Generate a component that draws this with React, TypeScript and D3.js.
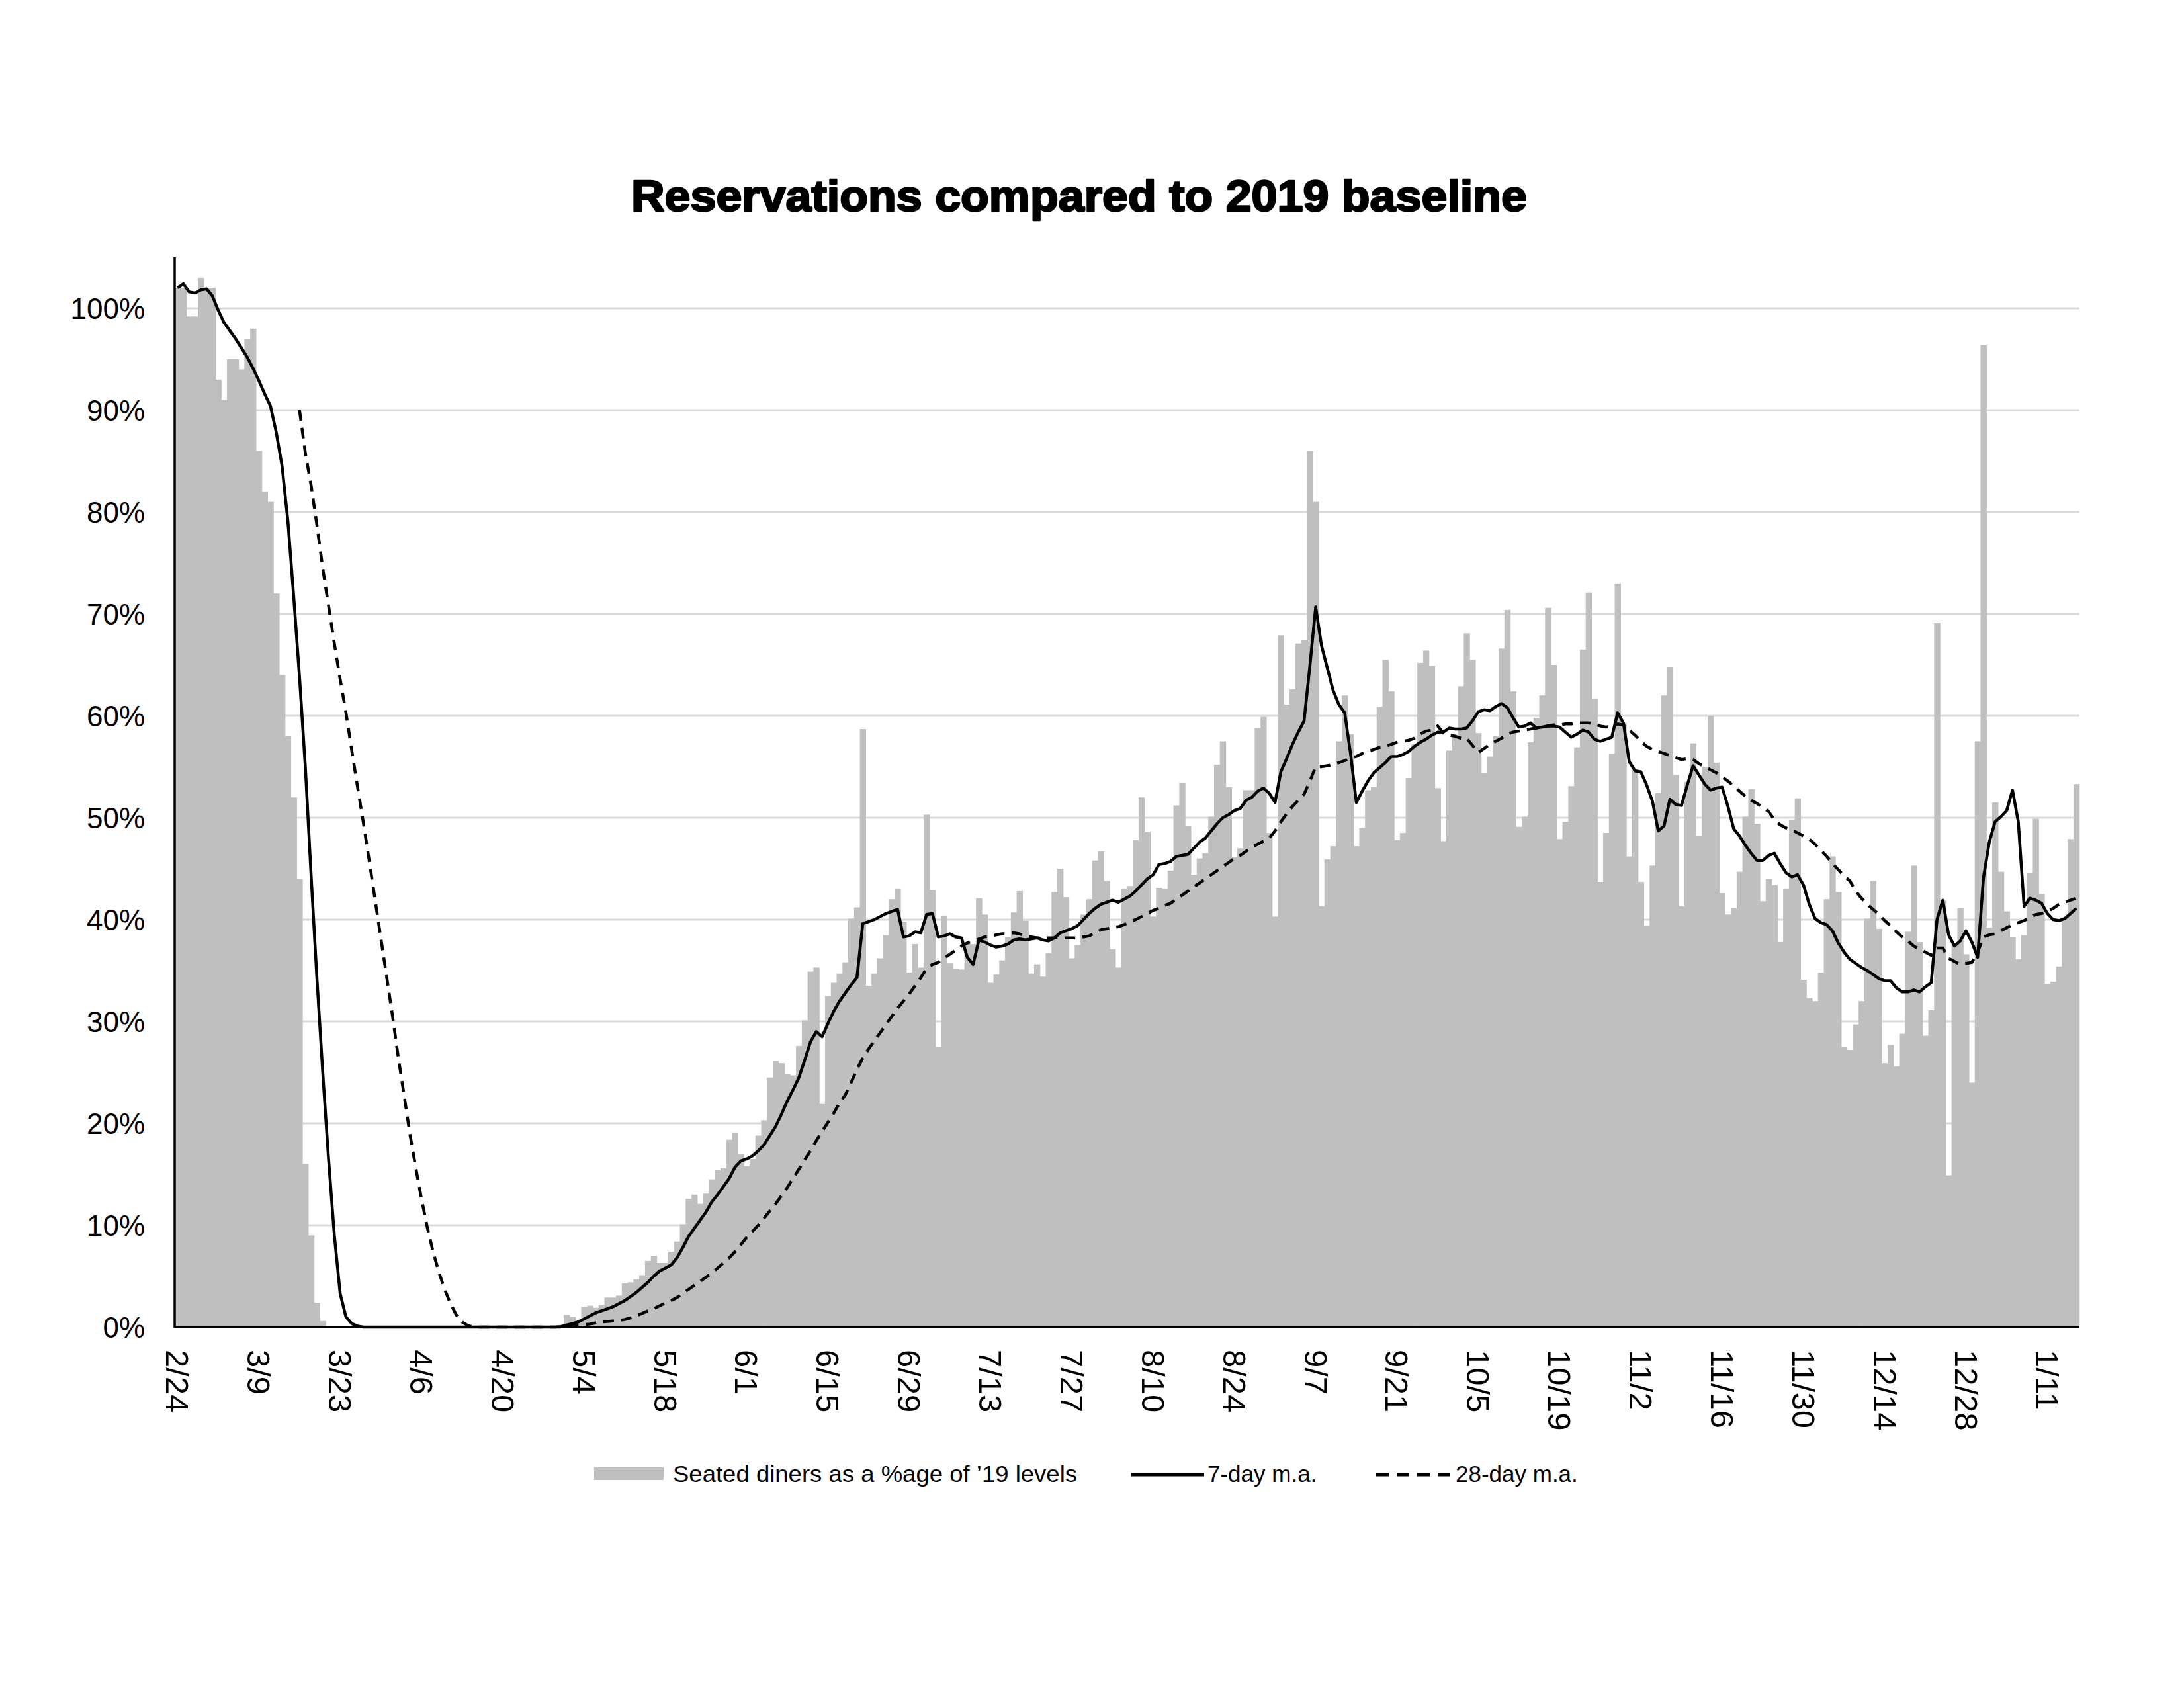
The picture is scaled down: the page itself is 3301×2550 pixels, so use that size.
import { line, range, scaleBand, scaleLinear } from 'd3'

// daily values, 2/24 through 1/16 (one entry per day)
const seated = [
  102, 102, 99.2, 99.2, 103, 102, 102, 93, 91, 95,
  95, 94, 97, 98, 86, 82, 81, 72, 64, 58,
  52, 44, 16, 9, 2.4, 0.6, 0, 0, 0, 0,
  0, 0, 0, 0, 0, 0, 0, 0, 0, 0,
  0, 0, 0, 0, 0, 0, 0, 0, 0, 0,
  0, 0, 0, 0, 0, 0, 0, 0, 0, 0,
  0, 0, 0, 0, 0, 0, 0, 1.2, 1.0, 0.7,
  2.0, 2.1, 1.9, 2.2, 2.9, 2.9, 3.1, 4.3, 4.4, 4.7,
  5.1, 6.5, 7.0, 6.3, 6.3, 7.4, 8.4, 10.1, 12.6, 13.0,
  12.1, 13.1, 14.5, 15.4, 15.6, 18.4, 19.1, 17.0, 15.8, 16.5,
  18.8, 20.3, 24.5, 26.1, 25.9, 24.8, 24.7, 27.6, 30.1, 34.9,
  35.3, 21.9, 32.5, 33.8, 34.7, 35.8, 40.1, 41.2, 58.7, 33.5,
  34.7, 36.2, 38.5, 42.0, 43.0, 39.8, 34.8, 37.6, 35.3, 50.3,
  42.9, 27.5, 40.4, 35.7, 35.2, 35.1, 37.6, 37.6, 42.1, 40.5,
  33.8, 34.6, 36.0, 38.3, 40.7, 42.8, 39.9, 34.7, 35.6, 34.4,
  36.7, 42.7, 45.0, 42.2, 36.2, 37.5, 40.5, 42.0, 45.8, 46.7,
  43.8, 37.1, 35.3, 43.0, 43.3, 47.8, 52.0, 48.6, 40.3, 43.1,
  43.0, 44.8, 51.2, 53.4, 49.2, 44.4, 46.0, 46.5, 50.1, 55.2,
  57.5, 53.0, 46.1, 47.0, 52.7, 52.7, 58.8, 59.9, 48.5, 40.3,
  67.9, 61.1, 62.6, 67.1, 67.4, 86.0, 81.0, 41.3, 45.9, 47.2,
  57.5, 62.0, 58.2, 47.2, 49.0, 52.7, 53.0, 60.9, 65.5, 62.4,
  47.8, 48.5, 53.9, 57.2, 65.2, 66.4, 64.9, 52.9, 47.7, 56.6,
  58.0, 62.9, 68.1, 65.5, 58.3, 54.4, 56.0, 58.0, 66.6, 70.4,
  62.4, 49.1, 50.1, 57.4, 59.8, 62.0, 70.6, 65.0, 47.9, 49.6,
  53.1, 56.9, 66.5, 72.1, 61.7, 43.7, 48.5, 56.3, 73.0, 59.3,
  46.2, 54.7, 43.7, 39.4, 45.3, 52.4, 62.0, 64.8, 54.2, 41.3,
  53.5, 57.3, 48.2, 55.0, 60.0, 55.4, 42.6, 40.5, 41.1, 44.7,
  50.1, 52.8, 49.4, 41.8, 44.0, 43.4, 37.8, 43.0, 49.8, 51.9,
  34.1, 32.3, 32.0, 34.8, 42.0, 46.2, 42.7, 27.5, 27.2, 29.7,
  32.0, 40.1, 43.8, 39.1, 25.9, 27.7, 25.6, 28.8, 38.8, 45.3,
  37.8, 28.6, 31.1, 69.1, 41.9, 14.9, 37.6, 41.1, 36.6, 24.0,
  57.5, 96.4, 39.2, 51.5, 44.7, 40.8, 38.3, 36.1, 38.5, 44.6,
  49.9, 42.5, 33.7, 33.9, 35.4, 40.1, 47.9, 53.3,
]

const ma7 = [
  102, 102.4, 101.6, 101.5, 101.8, 101.9, 101.2, 99.8, 98.6, 97.8,
  97.0, 96.1, 95.2, 94.1, 92.9, 91.6, 90.4, 87.8, 84.5, 79.1,
  71.7, 63.8, 55.0, 44.3, 34.2, 25.0, 16.5, 9.0, 3.3, 1.0,
  0.35, 0.1, 0, 0, 0, 0, 0, 0, 0, 0,
  0, 0, 0, 0, 0, 0, 0, 0, 0, 0,
  0, 0, 0, 0, 0, 0, 0, 0, 0, 0,
  0, 0, 0, 0, 0, 0, 0.05, 0.2, 0.35, 0.5,
  0.8, 1.1, 1.4, 1.6, 1.8, 2.0, 2.3, 2.6, 3.0, 3.4,
  3.9, 4.4, 5.0, 5.5, 5.8, 6.1, 6.8, 7.8, 8.9, 9.7,
  10.5, 11.3, 12.3, 13.0, 13.8, 14.6, 15.7, 16.3, 16.5, 16.8,
  17.3, 17.9, 18.8, 19.7, 20.9, 22.2, 23.3, 24.5, 26.2, 28.0,
  29.0, 28.5, 29.8, 31.0, 32.0, 32.8, 33.6, 34.3, 39.6, 39.8,
  40.0, 40.3, 40.6, 40.8, 41.0, 38.3, 38.4, 38.8, 38.7, 40.5,
  40.6, 38.3, 38.4, 38.6, 38.3, 38.2, 36.3, 35.6, 38.0, 37.8,
  37.5, 37.3, 37.4, 37.6, 38.0, 38.1, 38.0, 38.1, 38.2, 38.0,
  37.9, 38.2, 38.7, 38.9, 39.1, 39.4, 40.0, 40.6, 41.1, 41.5,
  41.7, 41.9, 41.7, 42.0, 42.3, 42.8, 43.4, 44.0, 44.4, 45.4,
  45.5, 45.7, 46.2, 46.3, 46.4, 47.0, 47.6, 48.0, 48.7, 49.4,
  50.0, 50.3, 50.7, 50.9, 51.7, 52.0, 52.6, 52.9, 52.4, 51.5,
  54.5, 55.8, 57.2, 58.4, 59.5, 64.9, 70.7, 66.9, 64.7, 62.5,
  61.1, 60.3, 56.3, 51.5, 52.6, 53.6, 54.4, 54.9, 55.4, 56.0,
  56.0, 56.2, 56.5, 57.0, 57.4, 57.7, 58.1, 58.4, 58.4, 58.8,
  58.7, 58.7, 58.8, 59.5, 60.4, 60.6, 60.5, 60.9, 61.2, 60.8,
  59.8, 58.9, 59.0, 59.3, 58.8, 58.9, 59.0, 59.0, 58.9, 58.4,
  57.9, 58.2, 58.6, 58.4, 57.7, 57.5, 57.7, 57.9, 60.3, 59.3,
  55.5, 54.6, 54.5, 53.2, 51.6, 48.7, 49.2, 51.8, 51.3, 51.2,
  53.2, 55.1, 54.2, 53.3, 52.7, 52.9, 53.0, 51.1, 48.9, 48.2,
  47.3, 46.5, 45.8, 45.8, 46.3, 46.5, 45.5, 44.6, 44.2, 44.4,
  43.4, 41.5, 40.1, 39.7, 39.5, 38.9, 37.7, 36.8, 36.1, 35.7,
  35.3, 35.0, 34.6, 34.2, 34.0, 34.0, 33.3, 32.9, 32.9, 33.1,
  32.9, 33.4, 33.8, 40.0, 41.9, 38.5, 37.4, 37.9, 38.9, 37.8,
  36.3, 44.1, 47.6, 49.6, 50.1, 50.7, 52.7, 49.6, 41.3, 42.1,
  41.9, 41.6, 40.6, 40.0, 39.9, 40.1, 40.6, 41.1,
]

const ma28 = [
  null, null, null, null, null, null, null, null, null, null,
  null, null, null, null, null, null, null, null, null, null,
  null, 90, 85.8, 82.6, 78.7, 74.5, 70.8, 67.1, 63.6, 60.3,
  56.6, 53.0, 49.5, 45.8, 42.0, 38.2, 34.4, 30.6, 26.5, 22.8,
  19.0, 15.7, 12.6, 9.8, 7.4, 5.4, 3.7, 2.3, 1.2, 0.5,
  0.15, 0, 0, 0, 0, 0, 0, 0, 0, 0,
  0, 0, 0, 0, 0, 0, 0, 0.05, 0.1, 0.15,
  0.25, 0.3, 0.4, 0.5, 0.55, 0.6, 0.65, 0.75, 0.9, 1.1,
  1.35, 1.6, 1.8, 2.1, 2.35, 2.6, 2.9, 3.3, 3.7, 4.1,
  4.5, 4.9, 5.3, 5.8, 6.3, 6.8, 7.4, 8.1, 8.8, 9.4,
  10.0, 10.7, 11.4, 12.1, 12.9, 13.7, 14.6, 15.5, 16.4, 17.3,
  18.3, 19.2, 20.1, 21.0, 22.0, 22.8, 24.0, 25.3, 26.4, 27.3,
  28.1, 28.9, 29.7, 30.5, 31.3, 32.0, 32.7, 33.5, 34.3, 35.2,
  35.6, 35.8, 36.2, 36.6, 37.0, 37.4, 37.7, 37.9, 38.1, 38.3,
  38.4, 38.5, 38.6, 38.6, 38.7, 38.6, 38.4, 38.3, 38.2, 38.2,
  38.2, 38.2, 38.2, 38.2, 38.2, 38.2, 38.3, 38.4, 38.7, 39.0,
  39.1, 39.2, 39.3, 39.5, 39.8, 40.0, 40.3, 40.6, 40.9, 41.1,
  41.4, 41.6, 42.0, 42.4, 42.8, 43.2, 43.6, 44.0, 44.4, 44.8,
  45.2, 45.6, 46.0, 46.3, 46.7, 47.1, 47.4, 47.7, 48.0, 48.7,
  49.6, 50.4, 51.1, 51.7, 52.3, 53.6, 55.0, 55.0, 55.1, 55.2,
  55.4, 55.6, 55.9, 56.0, 56.3, 56.5, 56.7, 56.9, 57.0, 57.2,
  57.4, 57.5, 57.6, 57.8, 58.2, 58.5, 58.6, 59.0, 58.3, 58.1,
  58.0, 57.8, 57.8, 57.1, 56.4, 56.8, 57.2, 57.5, 57.8, 58.2,
  58.4, 58.5, 58.6, 58.7, 58.8, 58.9, 59.0, 59.1, 59.1, 59.2,
  59.2, 59.3, 59.3, 59.3, 59.2, 59.0, 58.9, 59.0, 59.2, 59.1,
  58.6, 58.1, 57.5, 57.0, 56.7, 56.5, 56.3, 56.1, 55.9, 55.7,
  55.8, 55.7, 55.3, 55.0, 54.7, 54.4, 54.0, 53.6, 53.1, 52.6,
  52.1, 51.7, 51.4, 51.0, 50.6, 49.8, 49.3, 49.0, 48.8, 48.5,
  48.2, 47.9, 47.4, 46.8, 46.2, 45.5, 44.9, 44.3, 43.8, 42.8,
  42.1, 41.5, 41.0, 40.5, 39.9, 39.4, 38.8, 38.3, 37.9, 37.4,
  37.1, 36.8, 36.5, 37.2, 37.2, 36.2, 35.9, 35.6, 35.7, 35.8,
  36.8, 38.3, 38.5, 38.6, 38.9, 39.2, 39.5, 39.7, 39.9, 40.2,
  40.5, 40.6, 40.8, 41.1, 41.5, 41.7, 41.9, 42.1,
]

const dateLabels = [
  '2/24', '3/9', '3/23', '4/6', '4/20', '5/4', '5/18', '6/1', '6/15', '6/29', '7/13', '7/27',
  '8/10', '8/24', '9/7', '9/21', '10/5', '10/19', '11/2', '11/16', '11/30', '12/14', '12/28', '1/11',
]
const labelEvery = 14
const yTicks = [0, 10, 20, 30, 40, 50, 60, 70, 80, 90, 100]

const font = '"Liberation Sans", Arial, Helvetica, sans-serif'
const barFill = '#bfbfbf'

export default function App() {
  const width = 3301
  const height = 2550
  const left = 264
  const right = 3142.7
  const top = 389
  const bottom = 2006

  const x = scaleBand<number>().domain(range(seated.length)).range([left, right]).padding(0)
  const y = scaleLinear().domain([0, 105]).range([bottom, top])
  const cx = (i: number) => (x(i) ?? 0) + x.bandwidth() / 2

  const path7 = line<number>()
    .x((_, i) => cx(i))
    .y((v) => y(v))(ma7)
  const path28 = line<number | null>()
    .defined((v) => v !== null)
    .x((_, i) => cx(i))
    .y((v) => y(v as number))(ma28)

  return (
    <svg
      width={width}
      height={height}
      viewBox={`0 0 ${width} ${height}`}
      style={{ position: 'absolute', left: 0, top: 0, display: 'block' }}
    >
      <rect width={width} height={height} fill="#ffffff" />

      <text
        x={1631}
        y={319}
        textAnchor="middle"
        fontFamily={font}
        fontWeight="bold"
        fontSize={66}
        textLength={1354}
        lengthAdjust="spacingAndGlyphs"
        fill="#000"
        stroke="#000"
        strokeWidth={2.6}
        strokeLinejoin="round"
      >
        Reservations compared to 2019 baseline
      </text>

      {yTicks.filter((t) => t > 0).map((t) => (
        <line key={t} x1={left} x2={right} y1={y(t)} y2={y(t)} stroke="#d9d9d9" strokeWidth={3} />
      ))}

      {seated.map((v, i) =>
        v > 0 ? (
          <rect
            key={i}
            x={x(i)}
            y={y(v)}
            width={x.bandwidth() + 0.6}
            height={bottom - y(v)}
            fill={barFill}
          />
        ) : null,
      )}

      <path d={path28 ?? ''} fill="none" stroke="#000" strokeWidth={4.5} strokeDasharray="16 11" />
      <path d={path7 ?? ''} fill="none" stroke="#000" strokeWidth={4.5} strokeLinejoin="round" />

      <line x1={left} x2={right} y1={bottom} y2={bottom} stroke="#000" strokeWidth={3.5} />
      <line x1={left} x2={left} y1={top} y2={bottom + 1.5} stroke="#000" strokeWidth={3.5} />

      {yTicks.map((t) => (
        <text
          key={t}
          x={219}
          y={y(t)}
          textAnchor="end"
          dominantBaseline="central"
          fontFamily={font}
          fontSize={44}
          fill="#000"
        >
          {t}%
        </text>
      ))}

      {dateLabels.map((label, k) => {
        const px = cx(k * labelEvery)
        return (
          <text
            key={label}
            transform={`translate(${px},2040) rotate(90)`}
            textAnchor="start"
            dominantBaseline="central"
            fontFamily={font}
            fontSize={49}
            fill="#000"
          >
            {label}
          </text>
        )
      })}

      <g fontFamily={font} fontSize={35} fill="#000">
        <rect x={898} y={2218} width={105} height={19} fill={barFill} />
        <text x={1017} y={2240} textLength={611} lengthAdjust="spacingAndGlyphs">
          Seated diners as a %age of ’19 levels
        </text>
        <line x1={1710} x2={1820} y1={2229} y2={2229} stroke="#000" strokeWidth={5} />
        <text x={1825} y={2240}>7-day m.a.</text>
        <line x1={2080} x2={2195} y1={2229} y2={2229} stroke="#000" strokeWidth={5} strokeDasharray="19 12" />
        <text x={2200} y={2240}>28-day m.a.</text>
      </g>
    </svg>
  )
}
